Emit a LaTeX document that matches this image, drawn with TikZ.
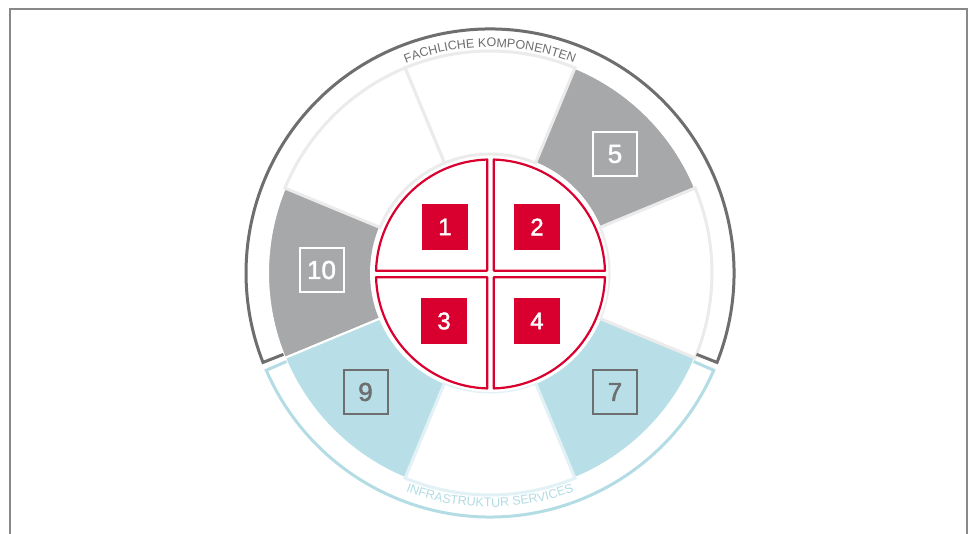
\documentclass[tikz,border=0pt]{standalone}
\usepackage{fontspec}
\setmainfont{Liberation Sans}
\newfontfamily\digitfont{Liberation Sans}[FakeBold=1.8]
\usetikzlibrary{decorations.text}
\definecolor{redc}{HTML}{D9002F}
\definecolor{seggray}{HTML}{A7A8AA}
\definecolor{segblue}{HTML}{B8DFE7}
\definecolor{lightborder}{HTML}{EBEBEB}
\definecolor{paleblue}{HTML}{E2F1F5}
\definecolor{ringgray}{HTML}{6E6E6E}
\definecolor{ringblue}{HTML}{B3DCE5}
\definecolor{boxgray}{HTML}{6D6E70}
\definecolor{framegray}{HTML}{888888}
\newcommand\mysegment[3]{%
  \path[#3] (#1:119) -- (#1:222) arc[start angle=#1, end angle=#2, radius=222]
    -- (#2:119) arc[start angle=#2, end angle=#1, radius=119] -- cycle;}
\tikzset{
  colseg/.style={fill=#1, draw=white, line width=2},
  whiteseg/.style={fill=white, draw=#1, line width=3},
  quad/.style={fill=white, draw=redc, line width=2.2, line join=round},
  redbox/.style={fill=redc, text=white, minimum size=46, inner sep=0, font=\digitfont\fontsize{24}{24}\selectfont},
  outbox/.style={draw=#1, text=#1, line width=2, minimum size=44, inner sep=0, font=\digitfont\fontsize{26}{26}\selectfont},
  ringarc/.style={draw=#1, line width=3, line join=miter},
}
\begin{document}
\begin{tikzpicture}[x=1pt,y=1pt]
\useasboundingbox (0,0) rectangle (971,534);
\fill[white] (0,0) rectangle (971,534);
\draw[framegray, line width=2.5] (10,0) -- (10,525) -- (967,525) -- (967,0);
\begin{scope}[shift={(490,261)}]
  % coloured segments
  \mysegment{22.5}{67.5}{colseg=seggray}
  \mysegment{157.5}{202.5}{colseg=seggray}
  \mysegment{-67.5}{-22.5}{colseg=segblue}
  \mysegment{202.5}{247.5}{colseg=segblue}
  % white segments
  \mysegment{67.5}{112.5}{whiteseg=lightborder}
  \mysegment{112.5}{157.5}{whiteseg=lightborder}
  \mysegment{-22.5}{22.5}{whiteseg=lightborder}
  \mysegment{-112.5}{-67.5}{whiteseg=paleblue}
  % outer bracket arcs
  \draw[ringarc=ringgray] (-21.5:222) -- (-21.5:244) arc[start angle=-21.5, end angle=201.5, radius=244] -- (201.5:222);
  \draw[ringarc=ringblue] (203.5:222) -- (203.5:244) arc[start angle=203.5, end angle=336.5, radius=244] -- (336.5:222);
  % curved labels
  \path[decorate, decoration={text along path, text align=center, text color=ringgray,
      text={|\fontsize{12.5}{15}\selectfont|FACHLICHE KOMPONENTEN}}]
      (140:226) arc[start angle=140, end angle=40, radius=226];
  \path[decorate, decoration={text along path, text align=center, text color=ringblue,
      text={|\fontsize{12.5}{15}\selectfont|INFRASTRUKTUR SERVICES}}]
      (220:234) arc[start angle=220, end angle=320, radius=234];
\end{scope}
\begin{scope}[shift={(490.5,260)}]
  \fill[white] (0,0) circle[radius=118];
  \path[quad] (3.3,3.3) -- (1.65:114.5) arc[start angle=1.65, end angle=88.35, radius=114.5] -- cycle;
  \path[quad] (-3.3,3.3) -- (91.65:114.5) arc[start angle=91.65, end angle=178.35, radius=114.5] -- cycle;
  \path[quad] (-3.3,-3.3) -- (181.65:114.5) arc[start angle=181.65, end angle=268.35, radius=114.5] -- cycle;
  \path[quad] (3.3,-3.3) -- (271.65:114.5) arc[start angle=271.65, end angle=358.35, radius=114.5] -- cycle;
\end{scope}
\node[redbox] (b1) at (445,307) {1};
\node[redbox] (b2) at (537,307) {2};
\node[redbox] (b3) at (444,213) {3};
\node[redbox] (b4) at (537,213) {4};
\node[outbox=white] (b5) at (615,380) {5};
\node[outbox=white] (b10) at (321.5,264) {10};
\node[outbox=boxgray] (b9) at (365.5,142) {9};
\node[outbox=boxgray] (b7) at (615,142) {7};
\end{tikzpicture}
\end{document}
